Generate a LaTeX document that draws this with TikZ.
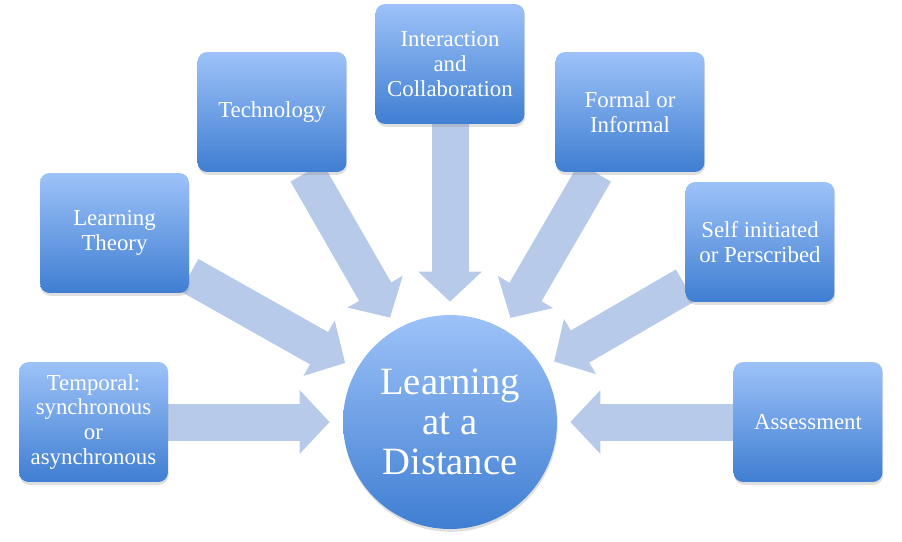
\documentclass[tikz,border=0pt]{standalone}
\usepackage{fontspec}
\setmainfont{Liberation Serif}
\usetikzlibrary{arrows.meta,shadows}
\definecolor{boxTop}{HTML}{9DC2F8}
\definecolor{boxBottom}{HTML}{3F7ED2}
\definecolor{flow}{HTML}{B7CAEA}
\pgfdeclarelayer{background}
\pgfsetlayers{background,main}
\tikzset{
  topic/.style={rounded corners=5.5pt,top color=boxTop,bottom color=boxBottom,text=white,align=center,
    minimum width=2.98cm,minimum height=2.4cm,inner sep=2pt,font=\fontsize{13}{14.2}\selectfont,
    drop shadow={opacity=0.25,shadow xshift=0.4pt,shadow yshift=-1.6pt}},
  hubnode/.style={circle,top color=boxTop,bottom color=boxBottom,text=white,align=center,
    minimum size=4.28cm,inner sep=0pt,font=\fontsize{22}{22.7}\selectfont,
    drop shadow={opacity=0.25,shadow xshift=0.4pt,shadow yshift=-1.6pt}},
  bigarrow/.style={draw=flow,line width=0.74cm,-{Triangle[length=0.6cm,width=1.24cm]},shorten >=0.26cm}
}

\begin{document}
\begin{tikzpicture}[x=0.02cm,y=-0.02cm]
  \useasboundingbox (0,0) rectangle (902,541);
  % centre
  \node[hubnode] (hub) at (450,422) {Learning\\at a\\Distance};
  % topics round it
  \node[topic] (temporal) at (93.5,422) {Temporal:\\synchronous\\or\\asynchronous};
  \node[topic] (theory) at (114.5,233) {Learning\\Theory};
  \node[topic] (tech) at (272,112) {Technology};
  \node[topic] (interact) at (450,64) {Interaction\\and\\Collaboration};
  \node[topic] (formal) at (630,112) {Formal or\\Informal};
  \node[topic] (self) at (760,242) {Self initiated\\or Perscribed};
  \node[topic] (assess) at (808,422) {Assessment};
  % block arrows behind the boxes
  \begin{pgfonlayer}{background}
    \foreach \src in {temporal,theory,tech,interact,formal,self,assess}
      \draw[bigarrow] (\src) -- (hub);
  \end{pgfonlayer}
\end{tikzpicture}
\end{document}
